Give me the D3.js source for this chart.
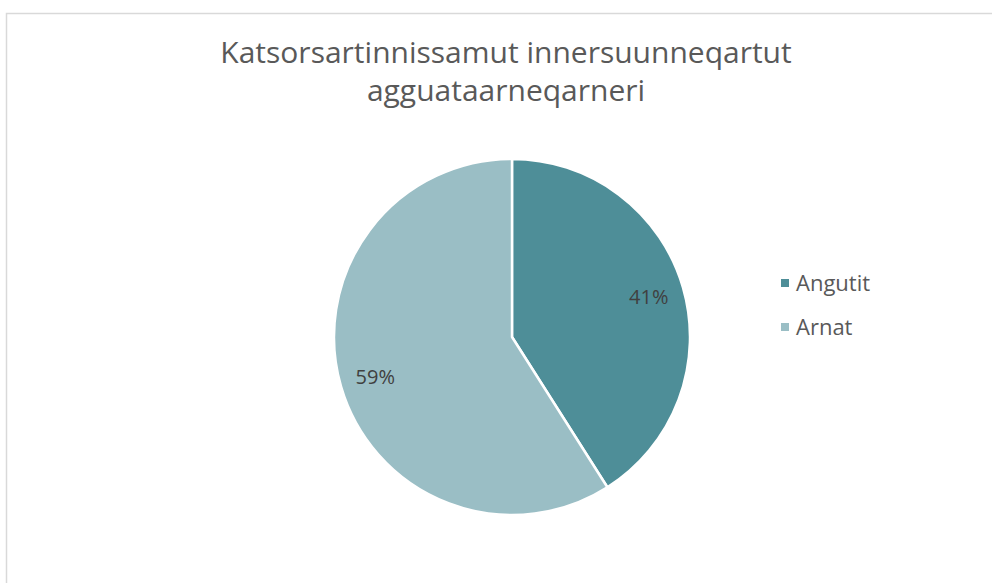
<!DOCTYPE html>
<html>
<head>
<meta charset="utf-8">
<script src="https://cdn.jsdelivr.net/npm/d3@7"></script>
<style>
  html, body { margin: 0; padding: 0; background: #fff; }
  svg { display: block; font-family: "Open Sans", "Noto Sans", sans-serif; }
</style>
</head>
<body>
<div id="chart"></div>
<script>
// chart data
const titleLines = ["Katsorsartinnissamut innersuunneqartut", "agguataarneqarneri"];
const categories = ["Angutit", "Arnat"];
const shares = [41, 59];
const sliceColors = ["#4E8E98", "#9ABEC5"];

const width = 992;
const height = 583;

const svg = d3.select("#chart")
  .append("svg")
  .attr("width", width)
  .attr("height", height);

// chart frame (runs off the right and bottom edge)
svg.append("rect")
  .attr("x", 6.5)
  .attr("y", 13.5)
  .attr("width", 1000)
  .attr("height", 600)
  .attr("fill", "#fff")
  .attr("stroke", "#D9D9D9")
  .attr("stroke-width", 1.5);

// title
const title = svg.append("text")
  .attr("text-anchor", "middle")
  .attr("fill", "#595959")
  .style("font-size", "30px");

title.selectAll("tspan")
  .data(titleLines)
  .join("tspan")
  .attr("x", 506)
  .attr("y", (d, i) => 63 + i * 38)
  .text(d => d);

// pie
const cx = 512, cy = 337, radius = 178;

const color = d3.scaleOrdinal(categories, sliceColors);

const pie = d3.pie()
  .sort(null)
  .value(d => d.value);

const arcs = pie(categories.map((c, i) => ({ name: c, value: shares[i] })));

const arc = d3.arc().innerRadius(0).outerRadius(radius);
const labelArc = d3.arc().innerRadius(radius * 0.8).outerRadius(radius * 0.8);

const g = svg.append("g").attr("transform", `translate(${cx},${cy})`);

g.selectAll("path")
  .data(arcs)
  .join("path")
  .attr("d", arc)
  .attr("fill", d => color(d.data.name))
  .attr("stroke", "#fff")
  .attr("stroke-width", 2.5)
  .attr("stroke-linejoin", "round");

g.selectAll("text")
  .data(arcs)
  .join("text")
  .attr("transform", d => `translate(${labelArc.centroid(d)})`)
  .attr("text-anchor", "middle")
  .attr("dy", "0.35em")
  .attr("fill", "#404040")
  .style("font-size", "20px")
  .text(d => `${d.data.value}%`);

// legend
const legend = svg.append("g").attr("transform", "translate(781,283)");

const item = legend.selectAll("g")
  .data(categories)
  .join("g")
  .attr("transform", (d, i) => `translate(0,${i * 44})`);

item.append("rect")
  .attr("x", 0)
  .attr("y", -4)
  .attr("width", 8)
  .attr("height", 8)
  .attr("fill", d => color(d));

item.append("text")
  .attr("x", 15)
  .attr("dy", "0.35em")
  .attr("fill", "#595959")
  .style("font-size", "22px")
  .text(d => d);
</script>
</body>
</html>
